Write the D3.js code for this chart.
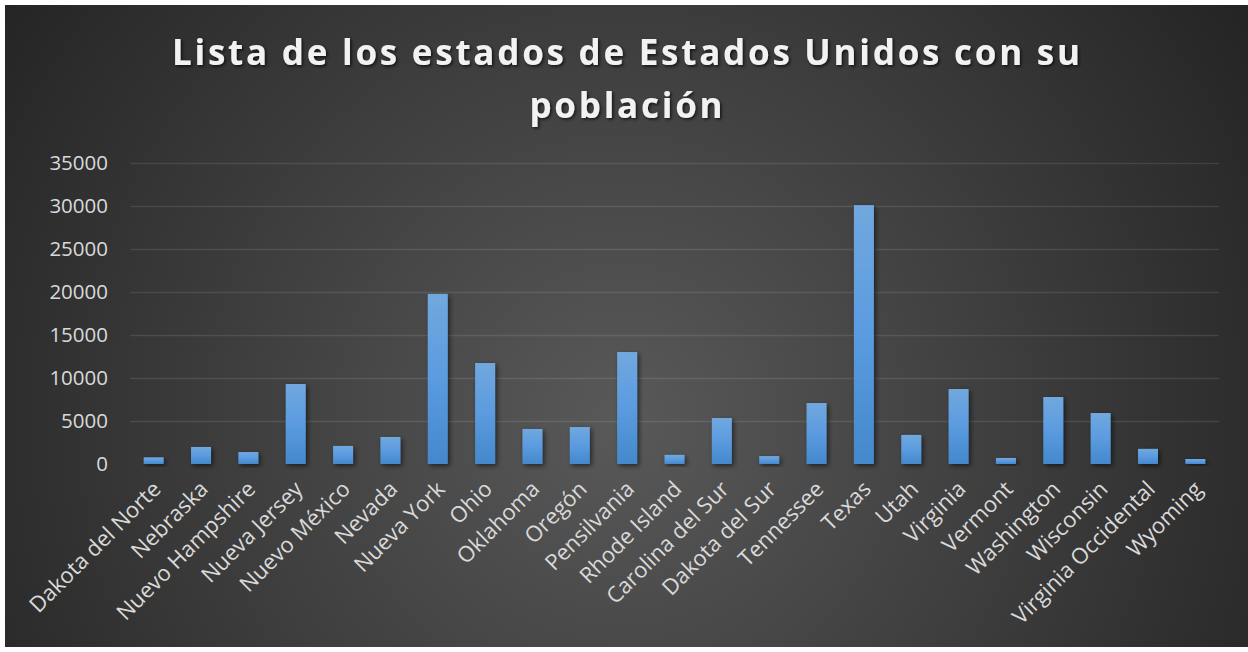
<!DOCTYPE html>
<html>
<head>
<meta charset="utf-8">
<script src="https://cdn.jsdelivr.net/npm/d3@7"></script>
<style>
html,body{margin:0;padding:0;background:#fff;}
svg{display:block;}
</style>
</head>
<body>
<svg id="chart" width="1248" height="652"></svg>
<script>
const titleLines = ["Lista de los estados de Estados Unidos con su", "población"];
const categories = ["Dakota del Norte","Nebraska","Nuevo Hampshire","Nueva Jersey","Nuevo México","Nevada","Nueva York","Ohio","Oklahoma","Oregón","Pensilvania","Rhode Island","Carolina del Sur","Dakota del Sur","Tennessee","Texas","Utah","Virginia","Vermont","Washington","Wisconsin","Virginia Occidental","Wyoming"];
const values = [780,1980,1390,9300,2100,3140,19780,11740,4070,4300,13020,1060,5350,920,7090,30100,3380,8720,700,7790,5930,1760,580];
const yTicks = [0,5000,10000,15000,20000,25000,30000,35000];

(function(){
const svg = d3.select("#chart");
const W = 1248, H = 652;
const defs = svg.append("defs");

const bg = defs.append("radialGradient").attr("id","bg")
  .attr("gradientUnits","userSpaceOnUse").attr("cx",620).attr("cy",420).attr("r",740);
bg.append("stop").attr("offset","0%").attr("stop-color","#595959");
bg.append("stop").attr("offset","100%").attr("stop-color","#252525");

const barG = defs.append("linearGradient").attr("id","barg").attr("x1",0).attr("y1",0).attr("x2",0).attr("y2",1);
barG.append("stop").attr("offset","0%").attr("stop-color","#71a8de");
barG.append("stop").attr("offset","50%").attr("stop-color","#5b9be0");
barG.append("stop").attr("offset","100%").attr("stop-color","#4488cb");

const sh = defs.append("filter").attr("id","shadow").attr("x","-30%").attr("y","-30%").attr("width","160%").attr("height","160%");
sh.append("feDropShadow").attr("dx",2).attr("dy",2).attr("stdDeviation",2.5).attr("flood-color","#000").attr("flood-opacity",0.55);
const tsh = defs.append("filter").attr("id","tshadow").attr("x","-10%").attr("y","-30%").attr("width","120%").attr("height","160%");
tsh.append("feDropShadow").attr("dx",1.5).attr("dy",1.5).attr("stdDeviation",1.5).attr("flood-color","#000").attr("flood-opacity",0.7);

svg.append("rect").attr("x",5).attr("y",5).attr("width",W-5).attr("height",642).attr("fill","url(#bg)");

const pLeft = 130, pRight = 1219, pTop = 163, pBottom = 464;
const x = d3.scaleBand().domain(categories).range([pLeft,pRight]).paddingInner(0.578).paddingOuter(0.289);
const y = d3.scaleLinear().domain([0,35000]).range([pBottom,pTop]);

// gridlines
const yAxis = d3.axisLeft(y).tickValues(yTicks).tickSize(-(pRight-pLeft)).tickPadding(22).tickFormat(d3.format("d"));
const gy = svg.append("g").attr("transform",`translate(${pLeft},0)`).call(yAxis);
gy.select(".domain").remove();
gy.selectAll(".tick line").attr("stroke","#ffffff").attr("stroke-opacity",0.1).attr("stroke-width",1.5)
  .filter(d=>d===0).remove();
gy.selectAll(".tick text").attr("fill","#d9d9d9").attr("font-family","'Open Sans', sans-serif").attr("font-size",20.5).attr("x",-22);

// bars
svg.append("g").selectAll("rect").data(values).join("rect")
  .attr("x",(d,i)=>x(categories[i]))
  .attr("y",d=>y(d))
  .attr("width",x.bandwidth())
  .attr("height",d=>pBottom-y(d))
  .attr("fill","url(#barg)")
  .attr("filter","url(#shadow)");

// x axis
const xAxis = d3.axisBottom(x).tickSize(0).tickPadding(0);
const gx = svg.append("g").attr("transform",`translate(0,${pBottom})`).call(xAxis);
gx.select(".domain").attr("stroke","#a6a6a6").attr("stroke-width",2.2).attr("filter","url(#shadow)");
gx.selectAll(".tick text")
  .attr("fill","#d9d9d9").attr("font-family","'Open Sans', sans-serif").attr("font-size",22)
  .attr("text-anchor","end").attr("dy","0.35em")
  .attr("transform","translate(3,21) rotate(-45)").attr("y",0);

// title
const tg = svg.append("g").attr("filter","url(#tshadow)");
const t1 = tg.append("text").attr("x",626).attr("y",65).attr("text-anchor","middle")
  .attr("font-family","'Open Sans', sans-serif").attr("font-weight",700).attr("font-size",35).attr("fill","#f2f2f2").text(titleLines[0]);
const w0 = t1.node().getComputedTextLength();
const n = titleLines[0].length;
const ls = (908 - w0)/(n-1);
t1.attr("letter-spacing",ls).attr("x",626+ls/2);
tg.append("text").attr("x",626+ls/2).attr("y",118).attr("text-anchor","middle")
  .attr("font-family","'Open Sans', sans-serif").attr("font-weight",700).attr("font-size",35).attr("fill","#f2f2f2")
  .attr("letter-spacing",ls).text(titleLines[1]);
})();
</script>
</body>
</html>
